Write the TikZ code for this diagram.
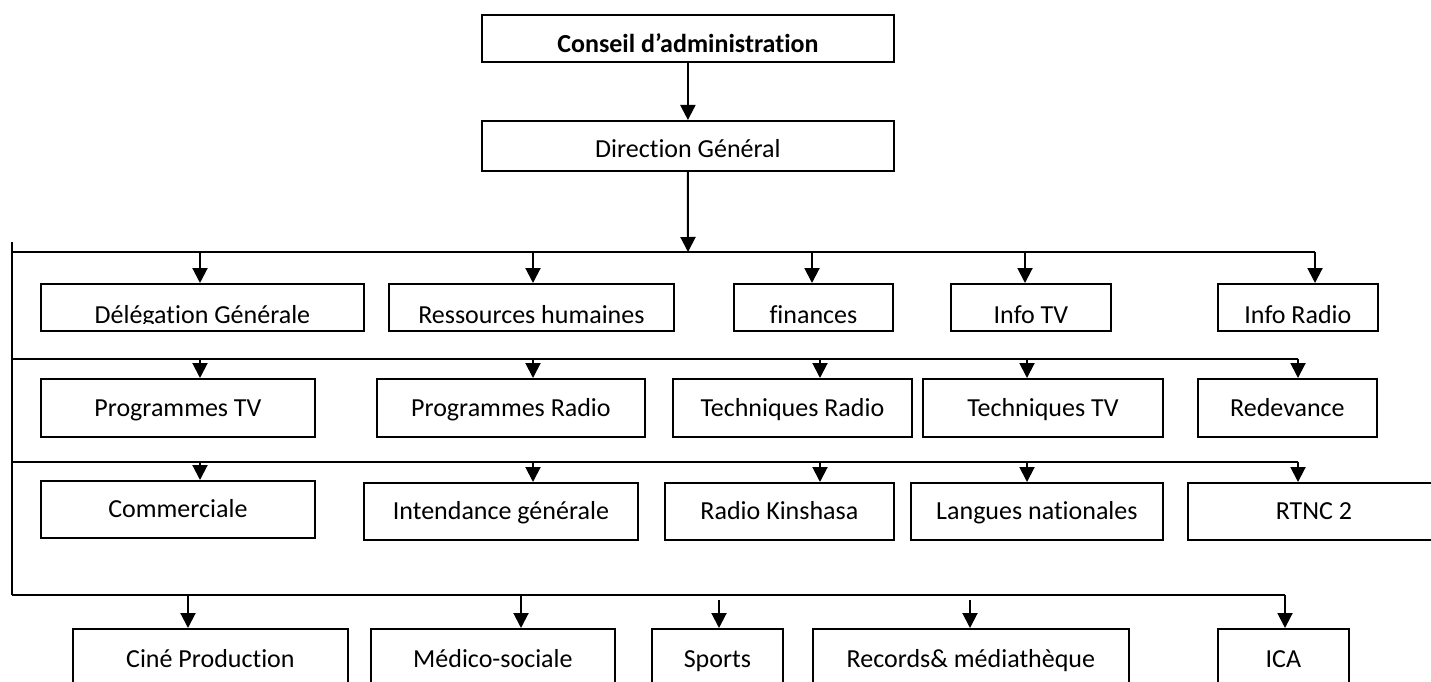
\documentclass[tikz,border=0pt]{standalone}
\usepackage{fontspec}
\setmainfont{Carlito}[Ligatures=NoCommon]
\usetikzlibrary{arrows.meta}
\newcommand\labfont{\fontsize{26}{31}\selectfont}
\begin{document}
\begin{tikzpicture}[x=1pt,y=-1pt,
  box/.style={draw, line width=1.8pt, inner sep=0pt, anchor=north west, font=\labfont, text height=17pt, text depth=0pt},
  toprow/.style={box, text height=#1},
  lastrow/.style={box, text height=8pt, text depth=8pt},
  cuttext/.style={box, path picture={
    \clip ([yshift=7pt]path picture bounding box.south west) rectangle (path picture bounding box.north east);
    \node[inner sep=0pt, anchor=base, font=\labfont] at ([yshift=7pt]path picture bounding box.south) {#1};}},
  bus/.style={line width=1.5pt},
  arr/.style={line width=2pt, -{Triangle[length=15pt,width=15pt]}}
]
\path[fill=white, use as bounding box] (0,0) rectangle (1431,682);

% top
\node[toprow=29pt, minimum width=412pt, minimum height=47pt] (conseil) at (481,14) {\bfseries Conseil d’administration};
\node[toprow=24pt, minimum width=412pt, minimum height=50pt] (direction) at (481,120) {Direction Général};

% row 1
\node[cuttext={Délégation Générale}, minimum width=323pt, minimum height=47pt] (deleg) at (40,283) {};
\node[cuttext={Ressources humaines}, minimum width=285pt, minimum height=47pt] (rh) at (388,283) {};
\node[cuttext={finances}, minimum width=159pt, minimum height=47pt] (fin) at (733,283) {};
\node[cuttext={Info TV}, minimum width=160pt, minimum height=47pt] (itv) at (950,283) {};
\node[cuttext={Info Radio}, minimum width=160pt, minimum height=47pt] (irad) at (1217,283) {};

% row 2
\node[box, minimum width=274pt, minimum height=58pt] (ptv) at (40,378) {Programmes TV};
\node[box, minimum width=268pt, minimum height=58pt] (prad) at (376,378) {Programmes Radio};
\node[box, minimum width=239pt, minimum height=58pt] (trad) at (672,378) {Techniques Radio};
\node[box, minimum width=240pt, minimum height=58pt] (ttv) at (922,378) {Techniques TV};
\node[box, minimum width=179pt, minimum height=58pt] (red) at (1197,378) {Redevance};

% row 3
\node[box, minimum width=274pt, minimum height=57pt] (com) at (40,480) {Commerciale};
\node[box, minimum width=274pt, minimum height=57pt] (int) at (363,482) {Intendance générale};
\node[box, minimum width=229pt, minimum height=57pt] (rk) at (664,482) {Radio Kinshasa};
\node[box, minimum width=252pt, minimum height=57pt] (ln) at (910,482) {Langues nationales};
\node[box, minimum width=252pt, minimum height=57pt] (rtnc) at (1187,482) {RTNC 2};

% row 4
\node[lastrow, minimum width=275pt, minimum height=78pt] (cine) at (72,628) {Ciné Production};
\node[lastrow, minimum width=244pt, minimum height=78pt] (med) at (370,628) {Médico-sociale};
\node[lastrow, minimum width=131pt, minimum height=78pt] (sports) at (651,628) {Sports};
\node[lastrow, minimum width=316pt, minimum height=78pt] (rec) at (812,628) {Records\& médiathèque};
\node[lastrow, minimum width=131pt, minimum height=78pt] (ica) at (1217,628) {ICA};

% bus coordinates
\coordinate (top) at (12,242);
\coordinate (bot) at (12,595);
\coordinate (hub) at (688,252);
\coordinate (L1) at (12,252);  \coordinate (R1) at (1315,252);
\coordinate (L2) at (12,359);  \coordinate (R2) at (1298,359);
\coordinate (L3) at (12,462);  \coordinate (R3) at (1298,462);
\coordinate (L4) at (12,595);  \coordinate (R4) at (1285,595);

\coordinate (a11) at (200,252); \coordinate (a12) at (533,252); \coordinate (a13) at (812,252); \coordinate (a14) at (1025,252);
\coordinate (a21) at (200,359); \coordinate (a22) at (533,359); \coordinate (a23) at (820,359); \coordinate (a24) at (1027,359);
\coordinate (a31) at (200,462); \coordinate (a32) at (533,462); \coordinate (a33) at (820,462); \coordinate (a34) at (1027,462);
\coordinate (a41) at (188,595); \coordinate (a42) at (521,595); \coordinate (a43) at (719,600); \coordinate (a44) at (970,600);

% lines
\draw[bus] (top) -- (bot);
\draw[bus] (L1) -- (R1);
\draw[bus] (L2) -- (R2);
\draw[bus] (L3) -- (R3);
\draw[bus] (L4) -- (R4);

% arrows
\draw[arr] (conseil.south) -- (direction.north);
\draw[arr] (direction.south) -- (hub);

\draw[arr] (a11) -- (a11 |- deleg.north);
\draw[arr] (a12) -- (a12 |- rh.north);
\draw[arr] (a13) -- (a13 |- fin.north);
\draw[arr] (a14) -- (a14 |- itv.north);
\draw[arr] (R1) -- (R1 |- irad.north);

\draw[arr] (a21) -- (a21 |- ptv.north);
\draw[arr] (a22) -- (a22 |- prad.north);
\draw[arr] (a23) -- (a23 |- trad.north);
\draw[arr] (a24) -- (a24 |- ttv.north);
\draw[arr] (R2) -- (R2 |- red.north);

\draw[arr] (a31) -- (a31 |- com.north);
\draw[arr] (a32) -- (a32 |- int.north);
\draw[arr] (a33) -- (a33 |- rk.north);
\draw[arr] (a34) -- (a34 |- ln.north);
\draw[arr] (R3) -- (R3 |- rtnc.north);

\draw[arr] (a41) -- (a41 |- cine.north);
\draw[arr] (a42) -- (a42 |- med.north);
\draw[arr] (a43) -- (a43 |- sports.north);
\draw[arr] (a44) -- (a44 |- rec.north);
\draw[arr] (R4) -- (R4 |- ica.north);
\end{tikzpicture}
\end{document}
